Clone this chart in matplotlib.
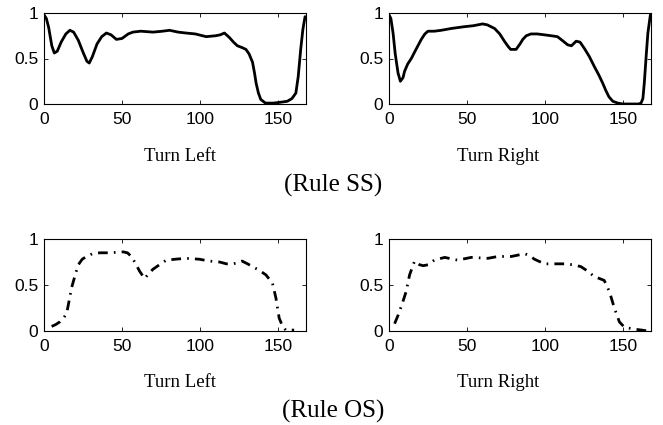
import matplotlib
matplotlib.use("Agg")
import matplotlib.pyplot as plt

# ---- data ----
ss_left_t = [0, 1.5, 3, 5, 6.6, 8.5, 11, 14, 16.6, 19, 22, 25, 27.5, 29, 31, 34, 37, 40, 43, 46.4,
             50, 54, 57, 62, 70, 76, 80.5, 86, 91, 97, 104, 110, 113, 115.7, 118.9, 121.5, 124,
             127, 129.5, 131.5, 133.7, 135, 136, 137.5, 139, 142, 147, 152, 156, 159, 161.5,
             163, 164.6, 166, 167.4]
ss_left_v = [0.98, 0.94, 0.84, 0.64, 0.56, 0.58, 0.68, 0.77, 0.81, 0.79, 0.70, 0.57, 0.47, 0.45,
             0.52, 0.66, 0.74, 0.78, 0.76, 0.71, 0.72, 0.77, 0.79, 0.80, 0.79, 0.80, 0.81, 0.79,
             0.78, 0.77, 0.74, 0.75, 0.76, 0.78, 0.73, 0.68, 0.64, 0.62, 0.60, 0.55, 0.46, 0.34,
             0.23, 0.12, 0.05, 0.01, 0.01, 0.02, 0.03, 0.06, 0.12, 0.30, 0.60, 0.82, 0.96]

ss_right_t = [0, 1.2, 2.6, 4, 5.8, 7.3, 9, 10, 12, 14.3, 17, 20.7, 23, 25, 29, 33.5, 40, 48.5,
              54, 60, 63, 67.7, 71, 74, 76.5, 78, 81.5, 84, 85.8, 88, 91, 95, 99.7, 104, 108,
              111, 114.6, 117, 120, 122.5, 125.3, 128.5, 131.7, 134.5, 137, 139, 141, 143.5,
              146.7, 150, 155, 160, 161.6, 162.8, 163.7, 165, 166, 167.6]
ss_right_v = [0.98, 0.94, 0.78, 0.55, 0.34, 0.25, 0.29, 0.36, 0.44, 0.50, 0.59, 0.71, 0.77,
              0.80, 0.80, 0.81, 0.83, 0.85, 0.86, 0.88, 0.87, 0.83, 0.77, 0.69, 0.63, 0.60,
              0.60, 0.66, 0.71, 0.75, 0.77, 0.77, 0.76, 0.75, 0.74, 0.70, 0.65, 0.64, 0.69,
              0.68, 0.61, 0.52, 0.41, 0.32, 0.23, 0.15, 0.08, 0.03, 0.01, 0.0, 0.0, 0.0, 0.01,
              0.06, 0.23, 0.55, 0.78, 0.98]

os_left_t = [4.9, 7.5, 10.2, 12.5, 14.5, 16, 17.7, 20, 22, 24.5, 27.3, 31, 35.8, 42, 50.7, 53.5,
             56, 58.5, 61.3, 64.5, 67, 69.8, 74, 78.4, 84, 91, 99.7, 106, 112.5, 117, 121, 124,
             127, 130.5, 133.7, 138, 142.3, 146.5, 148.7, 150.8, 153, 155, 160.4]
os_left_v = [0.05, 0.07, 0.10, 0.14, 0.19, 0.32, 0.47, 0.61, 0.72, 0.78, 0.81, 0.84, 0.85,
             0.85, 0.86, 0.85, 0.81, 0.74, 0.65, 0.57, 0.62, 0.67, 0.72, 0.77, 0.78, 0.79,
             0.78, 0.76, 0.75, 0.73, 0.73, 0.74, 0.76, 0.73, 0.70, 0.66, 0.61, 0.52, 0.36,
             0.14, 0.05, 0.01, 0.01]

os_right_t = [3.6, 5.8, 7.9, 9.5, 11, 13.2, 16.4, 19.6, 22, 25, 29, 35.7, 44, 52.7, 63.4, 69.8,
              78.4, 87, 90, 93.3, 99.7, 106, 112.5, 118, 123, 127.5, 131.7, 135, 138, 141.3,
              144.5, 147.7, 151, 157.4, 162, 166]
os_right_v = [0.08, 0.17, 0.27, 0.35, 0.43, 0.61, 0.76, 0.72, 0.71, 0.72, 0.77, 0.80, 0.77,
              0.80, 0.79, 0.81, 0.81, 0.84, 0.82, 0.78, 0.73, 0.73, 0.73, 0.72, 0.70, 0.65,
              0.59, 0.57, 0.55, 0.43, 0.25, 0.10, 0.04, 0.02, 0.01, 0.0]

x_ticks = [0, 50, 100, 150]
y_ticks = [0, 0.5, 1]
y_tick_labels = ["0", "0.5", "1"]
sub_titles = ["Turn Left", "Turn Right"]
row_titles = ["(Rule SS)", "(Rule OS)"]

# ---- figure ----
W, H = 663, 425
fig = plt.figure(figsize=(W / 100, H / 100), dpi=100)

def axbox(x0, y0, x1, y1):
    return [x0 / W, 1 - y1 / H, (x1 - x0) / W, (y1 - y0) / H]

boxes = [axbox(44, 13, 306, 104), axbox(389, 13, 651, 104),
         axbox(44, 239, 306, 331), axbox(389, 239, 651, 331)]
series = [(ss_left_t, ss_left_v, "-"), (ss_right_t, ss_right_v, "-"),
          (os_left_t, os_left_v, (0, (3.5, 2.2, 0.6, 2.2))),
          (os_right_t, os_right_v, (0, (3.5, 2.2, 0.6, 2.2)))]

tick_font = {"family": ["Liberation Sans", "DejaVu Sans"], "size": 12.5}
for box, (t, v, ls) in zip(boxes, series):
    ax = fig.add_axes(box)
    ax.plot(t, v, color="black", linewidth=2.0, linestyle=ls,
            solid_joinstyle="round", solid_capstyle="round")
    ax.set_xlim(0, 168)
    ax.set_ylim(0, 1)
    ax.set_xticks(x_ticks)
    ax.set_yticks(y_ticks)
    ax.set_xticklabels([str(x) for x in x_ticks], fontdict=tick_font)
    ax.set_yticklabels(y_tick_labels, fontdict=tick_font)
    ax.tick_params(direction="in", length=3, width=0.6, top=True, right=True,
                   colors="black")
    ax.tick_params(axis="x", pad=6)
    ax.tick_params(axis="y", pad=4)
    for s in ax.spines.values():
        s.set_linewidth(0.8)

serif = ["Liberation Serif", "DejaVu Serif"]
label_x = [180, 498]
for row, base in enumerate([161, 387]):
    for col in range(2):
        fig.text(label_x[col] / W, 1 - base / H, sub_titles[col], family=serif,
                 fontsize=13.5, ha="center", va="baseline")
    fig.text(333 / W, 1 - (base + 31) / H, row_titles[row], family=serif,
             fontsize=18, ha="center", va="baseline")

fig.savefig("out.png", dpi=100)
